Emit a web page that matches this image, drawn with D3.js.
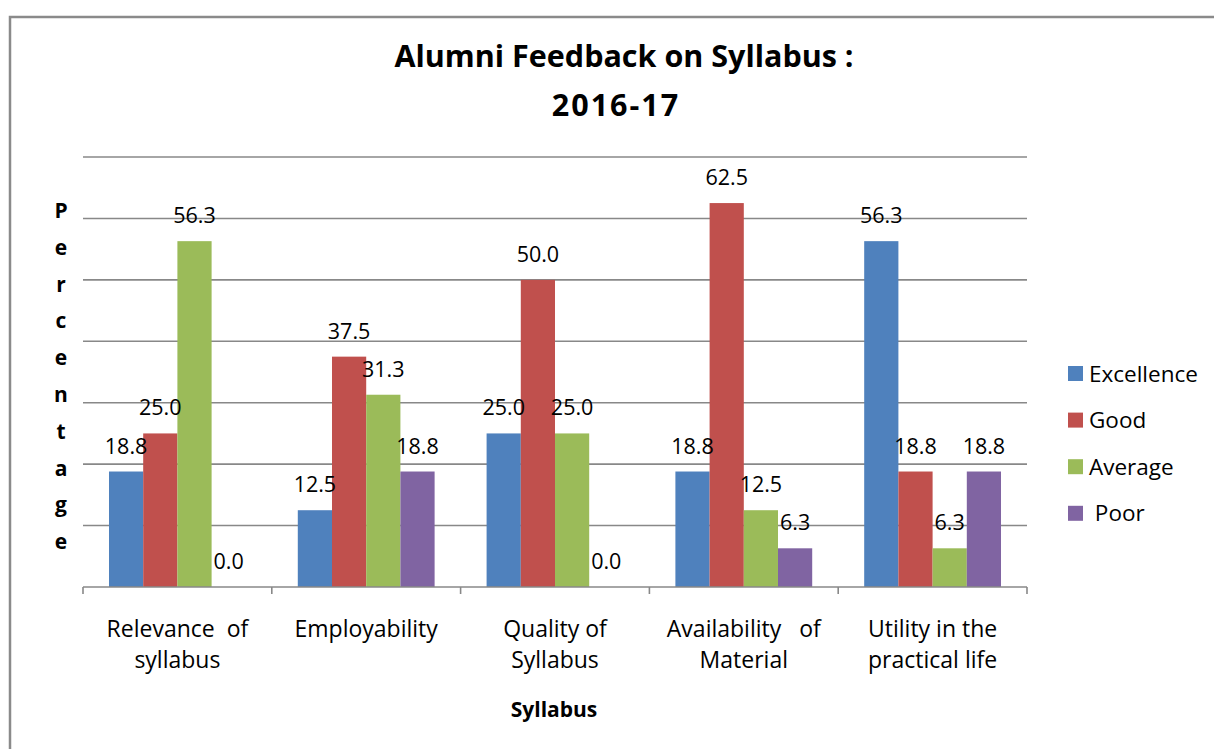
<!DOCTYPE html>
<html>
<head>
<meta charset="utf-8">
<script src="https://cdn.jsdelivr.net/npm/d3@7"></script>
<style>
  body { margin: 0; background: #fff; }
  text { font-family: "Open Sans", sans-serif; fill: #000; white-space: pre; }
</style>
</head>
<body>
<script>
// chart data
var categories = [
    ["Relevance  of", "syllabus"],
    ["Employability"],
    ["Quality of", "Syllabus"],
    ["Availability   of", "Material"],
    ["Utility in the", "practical life"]
];
var seriesNames = ["Excellence", "Good", "Average", " Poor"];
var excellence = [18.8, 12.5, 25.0, 18.8, 56.3];
var good       = [25.0, 37.5, 50.0, 62.5, 18.8];
var average    = [56.3, 31.3, 25.0, 12.5, 6.3];
var poor       = [0.0, 18.8, 0.0, 6.3, 18.8];
var gridTicks  = [10, 20, 30, 40, 50, 60, 70];
var colors = ["#4F81BD", "#C0504D", "#9BBB59", "#8064A2"];

var width = 1214, height = 749;
// plot area edges (don't call these top/left: clashes with window.top)
var plotL = 83, plotR = 1027, plotT = 157, plotB = 587;

var svg = d3.select("body").append("svg")
    .attr("width", width)
    .attr("height", height);

// outer border (runs off the picture on the right / bottom)
svg.append("rect")
    .attr("x", 10).attr("y", 17)
    .attr("width", 1300).attr("height", 900)
    .attr("fill", "none")
    .attr("stroke", "#8a8a8a")
    .attr("stroke-width", 2.5);

var catIdx = d3.range(categories.length);
var allSeries = [excellence, good, average, poor];

var x0 = d3.scaleBand().domain(catIdx).range([plotL, plotR]);
var x1 = d3.scaleBand().domain(d3.range(seriesNames.length))
    .range([0, x0.bandwidth()])
    .paddingInner(0).paddingOuter(0.76);
var y = d3.scaleLinear().domain([0, 70]).range([plotB, plotT]);

// gridlines
svg.append("g").selectAll("line")
    .data(gridTicks)
    .join("line")
    .attr("x1", plotL).attr("x2", plotR)
    .attr("y1", function(d) { return y(d); })
    .attr("y2", function(d) { return y(d); })
    .attr("stroke", "#888")
    .attr("stroke-width", 1.6);

// bars
var groups = svg.append("g").selectAll("g")
    .data(catIdx)
    .join("g")
    .attr("transform", function(i) { return "translate(" + x0(i) + ",0)"; });

groups.selectAll("rect")
    .data(function(i) {
        return allSeries.map(function(s, k) { return {k: k, v: s[i]}; });
    })
    .join("rect")
    .attr("x", function(d) { return x1(d.k); })
    .attr("width", x1.bandwidth())
    .attr("y", function(d) { return y(d.v); })
    .attr("height", function(d) { return plotB - y(d.v); })
    .attr("fill", function(d) { return colors[d.k]; });

// x axis line + tick marks between categories
var axis = svg.append("g");
axis.append("line")
    .attr("x1", plotL).attr("x2", plotR)
    .attr("y1", plotB).attr("y2", plotB)
    .attr("stroke", "#888").attr("stroke-width", 1.6);
axis.selectAll("line.tick")
    .data(catIdx.concat([categories.length]))
    .join("line")
    .attr("class", "tick")
    .attr("x1", function(i) { return i < categories.length ? x0(i) : plotR; })
    .attr("x2", function(i) { return i < categories.length ? x0(i) : plotR; })
    .attr("y1", plotB).attr("y2", plotB + 7)
    .attr("stroke", "#888").attr("stroke-width", 1.6);

// data labels
groups.selectAll("text.val")
    .data(function(i) {
        return allSeries.map(function(s, k) { return {k: k, v: s[i]}; });
    })
    .join("text")
    .attr("class", "val")
    .attr("x", function(d) { return x1(d.k) + x1.bandwidth() / 2; })
    .attr("y", function(d) { return y(d.v) - 18; })
    .attr("text-anchor", "middle")
    .style("font-size", "21.5px")
    .text(function(d) { return d.v.toFixed(1); });

// category labels
var catLabels = svg.append("g").selectAll("text")
    .data(catIdx)
    .join("text")
    .attr("text-anchor", "middle")
    .style("font-size", "23px");
catLabels.selectAll("tspan")
    .data(function(i) {
        return categories[i].map(function(t, j) { return {i: i, j: j, t: t}; });
    })
    .join("tspan")
    .attr("x", function(d) { return x0(d.i) + x0.bandwidth() / 2; })
    .attr("y", function(d) { return 637 + d.j * 31; })
    .text(function(d) { return d.t; });

// title
svg.append("text")
    .attr("x", 624).attr("y", 67)
    .attr("text-anchor", "middle")
    .style("font-size", "30.5px").style("font-weight", "bold")
    .text("Alumni Feedback on Syllabus :");
svg.append("text")
    .attr("x", 616).attr("y", 116)
    .attr("text-anchor", "middle")
    .style("font-size", "30.5px").style("font-weight", "bold")
    .style("letter-spacing", "2px")
    .text("2016-17");

// y axis title, one letter per line
svg.append("g").selectAll("text")
    .data("Percentage".split(""))
    .join("text")
    .attr("x", 61)
    .attr("y", function(d, i) { return 218 + i * 36.8; })
    .attr("text-anchor", "middle")
    .style("font-size", "21px").style("font-weight", "bold")
    .text(function(d) { return d; });

// x axis title
svg.append("text")
    .attr("x", 554).attr("y", 717)
    .attr("text-anchor", "middle")
    .style("font-size", "21px").style("font-weight", "bold")
    .text("Syllabus");

// legend
var legend = svg.append("g").selectAll("g")
    .data(seriesNames)
    .join("g")
    .attr("transform", function(d, i) { return "translate(1068," + (366 + i * 46.6) + ")"; });
legend.append("rect")
    .attr("width", 15).attr("height", 15)
    .attr("fill", function(d, i) { return colors[i]; });
legend.append("text")
    .attr("x", 21).attr("y", 15.5)
    .style("font-size", "22.5px")
    .text(function(d) { return d; });
</script>
</body>
</html>
